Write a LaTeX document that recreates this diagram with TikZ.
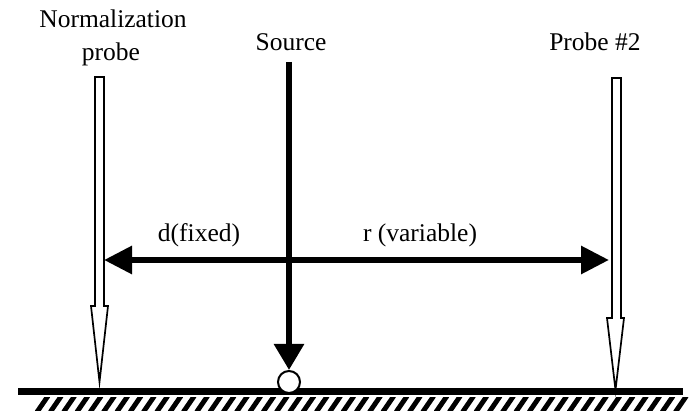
\documentclass[tikz,border=0pt]{standalone}
\usepackage{fontspec}
\setmainfont{Liberation Serif}
\usetikzlibrary{arrows.meta}
\begin{document}
\begin{tikzpicture}[x=1pt,y=-1pt,
  lbl/.style={font=\fontsize{25.5}{30}\selectfont, inner sep=0pt, anchor=base},
  probeshape/.style={draw, line width=1.7pt, fill=white, line join=miter},
  thick arrow/.style={line width=6pt},
  ground/.style={line width=7pt},
  hatch/.style={line width=4.9pt}
]
\useasboundingbox (0,0) rectangle (691,411);
% texts
\node[lbl] (normtxt1) at (113,28) {Normalization};
\node[lbl] (normtxt2) at (111,61) {probe};
\node[lbl] (srctxt) at (291,51) {Source};
\node[lbl] (p2txt) at (595,51) {Probe \#2};
\node[lbl] (dtxt) at (199,242) {d(fixed)};
\node[lbl] (rtxt) at (420,242) {r (variable)};
% ground
\coordinate (gl) at (18,391.5);
\coordinate (gr) at (683,391.5);
\draw[ground] (gl) -- (gr);
\begin{scope}
\clip (20,397.5) rectangle (691,411);
\foreach \x in {37,50.3,...,680} {
  \draw[hatch] (\x,412) -- (\x+11,396);
}
\end{scope}
% normalization probe
\draw[probeshape] (95,77) -- (104,77) -- (104,306) -- (108,306) -- (99.5,382) -- (91,306) -- (95,306) -- cycle;
\coordinate (np) at (104,260);
% probe #2
\draw[probeshape] (612,78) -- (621,78) -- (621,318) -- (624,318) -- (615.5,390) -- (607,318) -- (612,318) -- cycle;
\coordinate (pp) at (609,260);
% source
\node[draw, circle, line width=2pt, fill=white, minimum size=22pt, inner sep=0pt] (src) at (289,382) {};
\coordinate (srctop) at (289,62);
\draw[thick arrow, -{Triangle[length=26pt,width=29pt]}] (srctop) -- (src.north);
% double arrow
\draw[thick arrow, {Triangle[length=28pt,width=27pt]}-{Triangle[length=28pt,width=27pt]}] (np) -- (pp);
\end{tikzpicture}
\end{document}
